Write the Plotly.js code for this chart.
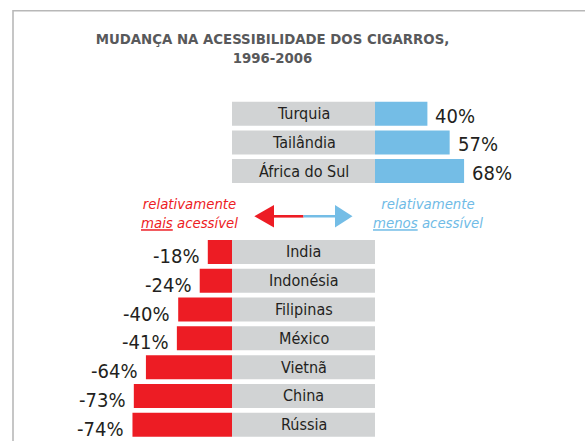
<!DOCTYPE html>
<html>
<head>
<meta charset="utf-8">
<script src="https://cdn.plot.ly/plotly-3.0.1.min.js"></script>
<style>html,body{margin:0;padding:0;background:#fff}#chart{width:585px;height:441px}</style>
</head>
<body>
<div id="chart"></div>
<script>
// ---- data ----
const TOP_COUNTRIES = ['Turquia', 'Tailândia', 'África do Sul'];
const TOP_VALUES = [40, 57, 68];
const BOTTOM_COUNTRIES = ['India', 'Indonésia', 'Filipinas', 'México', 'Vietnã', 'China', 'Rússia'];
const BOTTOM_VALUES = [-18, -24, -40, -41, -64, -73, -74];
const TITLE_TEXT = 'MUDANÇA NA ACESSIBILIDADE DOS CIGARROS,<br>1996-2006';
const LEFT_LABEL = 'relativamente<br><u>mais</u> acessível';
const RIGHT_LABEL = 'relativamente<br><u>menos</u> acessível';

// ---- layout geometry (pixels) ----
const W = 585, H = 441;
const ZERO_TOP = 375, SCALE_TOP = 1.31;     // px per %
const ZERO_BOT = 232, SCALE_BOT = 1.345;
const BOX_PX = 143;                         // grey label box width
const GREY_T = BOX_PX / SCALE_TOP, GREY_B = BOX_PX / SCALE_BOT;

const FONT = '"DejaVu Sans Condensed", "Liberation Sans Narrow", "Arial Narrow", sans-serif';
const RED = '#ed1c24', BLUE = '#74bde6', BLUE_TXT = '#6fbbe6', GREY = '#d1d3d4', DARK = '#231f20';

const px = x => x / W;
const py = y => 1 - y / H;

const traces = [
  {type: 'bar', orientation: 'h', y: TOP_COUNTRIES, x: TOP_COUNTRIES.map(() => -GREY_T), base: 0,
   marker: {color: GREY}, width: 0.84, xaxis: 'x', yaxis: 'y', hoverinfo: 'skip'},
  {type: 'bar', orientation: 'h', y: TOP_COUNTRIES, x: TOP_VALUES, base: 0,
   marker: {color: BLUE}, width: 0.84, xaxis: 'x', yaxis: 'y', hoverinfo: 'skip'},
  {type: 'bar', orientation: 'h', y: BOTTOM_COUNTRIES, x: BOTTOM_COUNTRIES.map(() => GREY_B), base: 0,
   marker: {color: GREY}, width: 0.834, xaxis: 'x2', yaxis: 'y2', hoverinfo: 'skip'},
  {type: 'bar', orientation: 'h', y: BOTTOM_COUNTRIES, x: BOTTOM_VALUES, base: 0,
   marker: {color: RED}, width: 0.834, xaxis: 'x2', yaxis: 'y2', hoverinfo: 'skip'}
];

const annotations = [];
TOP_COUNTRIES.forEach((c, i) => {
  annotations.push({xref: 'x', yref: 'y', x: -GREY_T / 2, y: c, text: c, showarrow: false,
    xanchor: 'center', yanchor: 'middle', font: {family: FONT, size: 16, color: DARK}});
  annotations.push({xref: 'x', yref: 'y', x: TOP_VALUES[i], y: c, text: TOP_VALUES[i] + '%', showarrow: false,
    xanchor: 'left', yanchor: 'middle', xshift: 6, yshift: -2, font: {family: FONT, size: 20, color: DARK}});
});
BOTTOM_COUNTRIES.forEach((c, i) => {
  annotations.push({xref: 'x2', yref: 'y2', x: GREY_B / 2, y: c, text: c, showarrow: false,
    xanchor: 'center', yanchor: 'middle', font: {family: FONT, size: 16, color: DARK}});
  annotations.push({xref: 'x2', yref: 'y2', x: BOTTOM_VALUES[i], y: c, text: BOTTOM_VALUES[i] + '%', showarrow: false,
    xanchor: 'right', yanchor: 'middle', xshift: -7, yshift: -4, font: {family: FONT, size: 20, color: DARK}});
});
// direction labels
[[LEFT_LABEL, 189.5, RED], [RIGHT_LABEL, 427.5, BLUE_TXT]].forEach(([t, cx, col]) => {
  annotations.push({xref: 'paper', yref: 'paper', x: px(cx), y: py(213), text: '<i>' + t + '</i>',
    showarrow: false, xanchor: 'center', yanchor: 'middle', align: 'center', borderpad: 0,
    font: {family: FONT, size: 14.8, color: col}});
});

const shapes = [
  // frame
  {type: 'path', xref: 'paper', yref: 'paper',
   path: `M ${px(13)} ${py(H)} L ${px(13)} ${py(10.8)} L ${px(W)} ${py(10.8)}`,
   line: {color: '#b8b8b8', width: 1.6}},
  // arrow: red half
  {type: 'path', xref: 'paper', yref: 'paper',
   path: `M ${px(254.3)} ${py(216.3)} L ${px(274)} ${py(205)} L ${px(274)} ${py(227.6)} Z`,
   fillcolor: RED, line: {width: 0}},
  {type: 'line', xref: 'paper', yref: 'paper', x0: px(272), x1: px(303.5), y0: py(216.3), y1: py(216.3),
   line: {color: RED, width: 2.6}},
  // blue half
  {type: 'line', xref: 'paper', yref: 'paper', x0: px(303.5), x1: px(336), y0: py(216.3), y1: py(216.3),
   line: {color: BLUE, width: 2.6}},
  {type: 'path', xref: 'paper', yref: 'paper',
   path: `M ${px(352.5)} ${py(216.3)} L ${px(335)} ${py(205)} L ${px(335)} ${py(227.6)} Z`,
   fillcolor: BLUE, line: {width: 0}}
];

const layout = {
  width: W, height: H,
  margin: {l: 0, r: 0, t: 0, b: 0, pad: 0},
  paper_bgcolor: '#fff', plot_bgcolor: 'rgba(0,0,0,0)',
  showlegend: false, hovermode: false, barmode: 'overlay',
  title: {text: '<b>' + TITLE_TEXT + '</b>', x: px(272.5), xanchor: 'center', xref: 'paper',
          y: py(44), yanchor: 'middle', yref: 'container',
          font: {family: FONT, size: 14.8, color: '#58595b'}},
  xaxis: {domain: [0, 1], range: [-ZERO_TOP / SCALE_TOP, (W - ZERO_TOP) / SCALE_TOP], visible: false, fixedrange: true},
  yaxis: {domain: [py(185.3), py(99.5)], type: 'category', categoryorder: 'array', categoryarray: TOP_COUNTRIES,
          range: [TOP_COUNTRIES.length - 0.5, -0.5], visible: false, fixedrange: true},
  xaxis2: {domain: [0, 1], anchor: 'y2', range: [-ZERO_BOT / SCALE_BOT, (W - ZERO_BOT) / SCALE_BOT], visible: false, fixedrange: true},
  yaxis2: {domain: [py(439.1), py(237.6)], anchor: 'x2', type: 'category', categoryorder: 'array', categoryarray: BOTTOM_COUNTRIES,
           range: [BOTTOM_COUNTRIES.length - 0.5, -0.5], visible: false, fixedrange: true},
  annotations: annotations,
  shapes: shapes
};

Plotly.newPlot('chart', traces, layout, {displayModeBar: false, staticPlot: true});
</script>
</body>
</html>
